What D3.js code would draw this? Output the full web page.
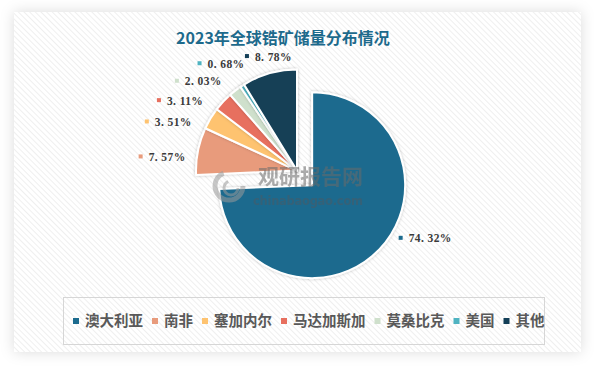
<!DOCTYPE html>
<html><head><meta charset="utf-8">
<script src="https://cdn.jsdelivr.net/npm/d3@7"></script>
<style>html,body{margin:0;padding:0;background:#fff;}svg{display:block;}</style>
</head><body>
<svg id="chart" width="594" height="366"></svg>
<script>
const categories = ["澳大利亚", "南非", "塞加内尔", "马达加斯加", "莫桑比克", "美国", "其他"];
const values = [74.32, 7.57, 3.51, 3.11, 2.03, 0.68, 8.78];
const colors = ["#1c6b8e", "#e89b7c", "#fec370", "#e76f5e", "#cfe0cc", "#4fb3c1", "#133f57"];
const titleText = "2023年全球锆矿储量分布情况";
// label layout tweaks (angle shift in degrees, label radius) for ECharts-like label avoidance
const labelShift = [-13, -6, -13, -16, -15.5, -9.4, -7.8];
const labelRadius = [103, 157, 158, 155, 150, 145, 125];

const svg = d3.select("#chart");
const defs = svg.append("defs");
const pat = defs.append("pattern").attr("id","hatch").attr("patternUnits","userSpaceOnUse")
  .attr("width",4).attr("height",4).attr("patternTransform","rotate(-45)");
pat.append("rect").attr("width",4).attr("height",4).attr("fill","#ffffff");
pat.append("line").attr("x1",0).attr("y1",0).attr("x2",0).attr("y2",4).attr("stroke","#ececec").attr("stroke-width",1.6);
const shadow = defs.append("filter").attr("id","cardShadow").attr("x","-10%").attr("y","-10%").attr("width","120%").attr("height","120%");
shadow.append("feDropShadow").attr("dx",0).attr("dy",0).attr("stdDeviation",7).attr("flood-color","#000").attr("flood-opacity",0.14);
const sliceShadow = defs.append("filter").attr("id","sliceShadow").attr("x","-20%").attr("y","-20%").attr("width","140%").attr("height","140%");
sliceShadow.append("feDropShadow").attr("dx",0).attr("dy",0).attr("stdDeviation",1.5).attr("flood-color","#000").attr("flood-opacity",0.25);

// card
svg.append("rect").attr("x",14).attr("y",12).attr("width",567).attr("height",340)
  .attr("fill","url(#hatch)").attr("filter","url(#cardShadow)");

// title
svg.append("text").attr("x",283).attr("y",44).attr("text-anchor","middle")
  .attr("font-family","'Noto Sans CJK SC', sans-serif").attr("font-weight","bold")
  .attr("font-size",16).attr("fill","#1d6a8c").text(titleText);

// pie
const cx = 297, cy = 170.6;
const pie = d3.pie().sort(null).value(d => d)(values);
const rSmall = 101, rBig = 93, explode = 21;
const arcSmall = d3.arc().innerRadius(0).outerRadius(rSmall);
const arcBig = d3.arc().innerRadius(0).outerRadius(rBig);
const g = svg.append("g").attr("transform",`translate(${cx},${cy})`);
g.selectAll("path").data(pie).join("path")
  .attr("d",(d,i) => i===0 ? arcBig(d) : arcSmall(d))
  .attr("transform",(d,i) => {
    if (i!==0) return null;
    const m = (d.startAngle+d.endAngle)/2;
    return `translate(${explode*Math.sin(m)},${-explode*Math.cos(m)})`;
  })
  .attr("fill",(d,i)=>colors[i])
  .attr("stroke","#fff").attr("stroke-width",2).attr("stroke-linejoin","round")
  .attr("filter","url(#sliceShadow)");

// watermark
const wm = svg.append("g").attr("opacity",0.55);
wm.append("circle").attr("cx",229).attr("cy",186).attr("r",14).attr("fill","none").attr("stroke","#9a9a9a").attr("stroke-width",5)
  .attr("stroke-dasharray","60 28");
wm.append("circle").attr("cx",231).attr("cy",188).attr("r",7).attr("fill","none").attr("stroke","#9a9a9a").attr("stroke-width",3)
  .attr("stroke-dasharray","30 14");
wm.append("text").attr("x",258).attr("y",184).attr("font-family","'Noto Sans CJK SC', sans-serif").attr("font-weight","bold")
  .attr("font-size",21).attr("fill","#6a6a6a").attr("textLength",105).text("观研报告网");
wm.append("text").attr("x",253).attr("y",205).attr("font-family","'DejaVu Sans', sans-serif").attr("font-weight","bold")
  .attr("font-size",11.5).attr("fill","#4a5a66").attr("textLength",110).text("chinabaogao.com");

// labels
const lab = svg.append("g");
pie.forEach((d,i) => {
  const m = (d.startAngle+d.endAngle)/2 + labelShift[i]*Math.PI/180;
  let ox = cx, oy = cy;
  if (i===0) {
    const mm = (d.startAngle+d.endAngle)/2;
    ox += explode*Math.sin(mm); oy -= explode*Math.cos(mm);
  }
  const x = ox + labelRadius[i]*Math.sin(m);
  const y = oy - labelRadius[i]*Math.cos(m);
  lab.append("rect").attr("x",x-2).attr("y",y-2).attr("width",4).attr("height",4).attr("fill",colors[i]);
  lab.append("text").attr("x",x+8).attr("y",y+4.5)
    .attr("font-family","'Liberation Serif', serif").attr("font-weight","bold")
    .attr("font-size",11.5).attr("letter-spacing",0.4).attr("fill","#3a3a3a")
    .text(d3.format(".2f")(values[i]).replace(".", ". ") + "%");
});

// legend
svg.append("rect").attr("x",63.5).attr("y",297.5).attr("width",481).attr("height",47)
  .attr("fill","none").attr("stroke","#d6d6d6").attr("stroke-width",1);
let lx = 73;
const leg = svg.append("g");
categories.forEach((c,i) => {
  leg.append("rect").attr("x",lx).attr("y",318).attr("width",6).attr("height",6).attr("fill",colors[i]);
  const t = leg.append("text").attr("x",lx+12).attr("y",326)
    .attr("font-family","'Noto Sans CJK SC', sans-serif").attr("font-weight","bold")
    .attr("font-size",14.5).attr("fill","#595959").text(c);
  lx += 12 + t.node().getComputedTextLength() + 9;
});
</script>
</body></html>
